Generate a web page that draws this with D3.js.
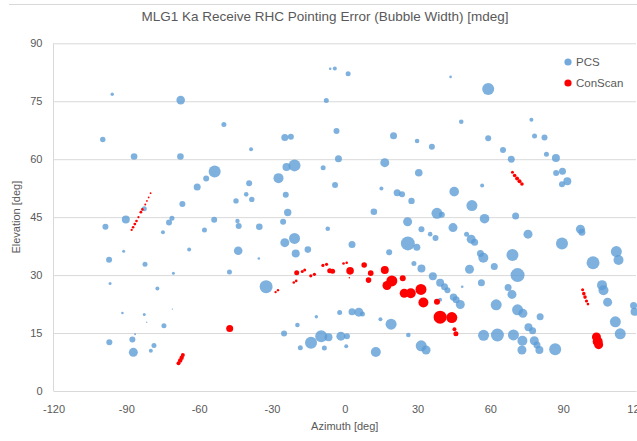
<!DOCTYPE html>
<html><head><meta charset="utf-8">
<script src="https://cdn.jsdelivr.net/npm/d3@7"></script>
<style>body{margin:0;background:#fff}svg{display:block;font-family:"Liberation Sans",Arial,sans-serif}</style>
</head><body><svg id="c" width="637" height="441"></svg>
<script>
// PCS series: azimuth [deg], elevation [deg], bubble width [mdeg]
const pcsAz=[-95.8,-67.6,-99.7,-86.8,-67.7,-53.6,-57.1,-60.8,-66.9,-82.6,-90.2,-71.2,-98.6,-72.4,-74.9,-57.8,-91.1,-64.1,-97.1,-82.3,-70.6,-96.7,-77.2,-91.6,-82.6,-71.0,-81.6,-74.5,-86.4,-97.0,-87.5,-87.1,-78.6,-79.9,
-6.0,-4.1,1.4,-7.6,-49.8,-3.4,-24.7,-22.2,-38.6,-20.7,-24.0,-27.3,-8.9,-2.6,-4.0,-39.4,-40.6,-38.3,-44.8,-24.3,-23.5,-53.8,-44.2,-25.4,-43.7,-35.2,-20.7,-24.7,-20.2,-15.2,-7.0,-43.9,-35.4,-47.5,-32.4,-25.0,-19.5,-11.7,-2.1,-9.7,-13.9,-6.7,-8.4,-18.3,-1.6,0.9,0.6,
43.6,59.1,48.0,20.1,29.8,35.9,59.1,16.5,30.5,15.1,21.6,23.6,27.5,45.1,56.6,52.4,12.0,38.0,40.0,57.6,25.9,31.6,44.6,35.2,37.4,50.2,52.1,53.5,26.0,29.7,3.0,18.3,55.9,57.1,28.5,31.6,51.4,36.3,39.3,41.1,42.3,48.4,56.3,44.8,45.9,47.6,39.3,3.0,5.8,7.3,14.7,19.1,26.2,31.5,33.5,12.8,57.2,
76.9,78.2,82.3,65.2,83.1,68.6,87.0,87.1,89.7,89.5,91.7,70.4,75.5,89.5,97.1,97.7,69.1,61.6,71.2,67.3,68.9,62.4,71.2,73.4,80.5,102.3,111.9,112.8,106.0,106.6,108.3,119.0,119.4,111.5,113.5,62.9,69.5,75.7,77.4,73.2,78.1,79.2,73.0,80.2,86.7];
const pcsEl=[76.8,75.3,65.1,60.7,60.7,56.8,55.0,52.8,48.4,47.2,44.4,44.7,42.5,43.6,41.1,41.7,36.2,36.6,34.0,32.8,30.5,27.8,26.5,20.2,19.8,21.2,17.8,16.9,14.7,12.6,13.3,10.0,11.8,10.4,
83.4,83.5,82.1,75.2,69.0,67.3,65.6,65.8,62.6,58.4,58.0,55.1,57.8,60.1,53.3,53.8,50.9,49.6,49.2,50.8,46.2,44.3,44.0,43.8,42.7,42.5,39.5,38.4,35.6,36.6,42.0,36.3,34.3,30.8,27.0,14.9,17.1,19.2,20.3,14.2,12.5,13.9,11.1,11.2,14.2,14.2,11.6,
81.3,78.2,69.7,66.1,64.7,63.2,65.4,59.1,56.5,52.4,51.3,50.9,49.2,51.6,53.2,48.0,46.4,46.0,45.6,44.6,43.8,41.9,42.3,40.6,39.6,40.6,39.3,38.5,38.2,37.2,37.9,35.9,35.6,34.5,33.0,31.7,31.5,29.7,28.0,27.0,26.1,27.0,28.0,24.3,23.6,22.4,23.6,20.5,20.4,19.9,18.6,17.3,14.5,11.7,10.6,10.1,14.4,
70.2,66.0,65.6,62.4,61.3,60.0,60.3,56.4,56.9,53.5,54.3,45.3,40.6,38.2,41.9,41.1,35.2,32.2,30.0,26.8,25.0,22.3,21.0,20.1,19.2,33.2,36.1,33.9,27.4,26.1,23.0,22.1,20.5,17.9,14.8,14.5,14.5,16.5,15.6,13.0,13.0,11.9,10.6,10.6,10.8];
const pcsWidth=[17,43,27,33,33,60,30,35,30,25,40,25,30,30,20,25,15,20,30,25,15,15,20,13,15,7,7,25,10,30,30,45,25,20,
13,20,25,25,25,30,35,30,20,60,40,50,25,35,30,30,23,27,27,30,37,30,22,30,30,33,55,45,40,33,23,43,13,25,65,30,23,17,25,60,60,40,25,25,45,30,20,
13,60,23,35,23,30,30,45,38,20,35,30,32,48,20,55,33,55,30,48,45,30,45,23,30,25,45,35,70,35,35,30,35,50,25,40,45,40,40,35,30,13,35,37,35,45,20,35,45,25,20,55,23,55,45,50,55,
20,25,30,30,25,35,40,30,35,30,40,35,45,60,45,35,60,35,70,35,45,55,55,45,35,65,55,50,50,50,45,35,40,55,55,65,55,40,35,50,45,35,45,40,60];

// ConScan series
const conAz=[-80.0,-80.8,-81.5,-82.2,-83.4,-84.0,-85.0,-85.8,-86.5,-87.2,-87.8,
-66.7,-67.2,-67.8,-68.5,-47.4,
-28.5,-27.5,-21.0,-20.0,-19.8,-17.5,-16.5,-14.0,-12.5,-9.0,-7.5,-6.2,-5.0,-0.5,0.8,2.2,1.9,
8.0,10.7,9.8,16.5,23.9,19.4,17.4,24.5,27.2,31.4,32.4,38.0,39.3,44.1,45.8,45.2,
69.1,70.0,71.0,72.0,73.0,98.0,98.5,99.0,99.6,100.2,103.7,104.2,104.6];
const conEl=[51.2,50.1,49.2,48.3,47.0,46.3,45.0,44.0,43.2,42.4,41.7,
9.3,8.6,7.9,7.2,16.2,
25.6,26.1,28.1,28.5,30.6,30.9,31.3,29.8,30.2,32.5,32.8,31.1,31.0,33.0,33.2,31.1,29.3,
32.6,30.5,28.7,31.3,29.2,28.5,27.3,25.3,25.3,26.3,22.9,23.1,19.1,19.0,14.8,16.0,
56.6,55.8,55.0,54.3,53.6,26.2,25.2,24.3,23.3,22.5,14.0,12.8,12.0];
const conWidth=[9,9,9,10,13,14,11,13,14,13,11,
20,22,22,20,35,
12,12,13,13,25,15,15,16,16,16,16,25,25,13,13,38,7,
28,28,28,40,30,55,45,45,50,55,50,30,65,55,25,20,
15,18,20,20,18,15,18,18,16,13,45,50,45];

const xTicks=[-120,-90,-60,-30,0,30,60,90,120];
const yTicks=[0,15,30,45,60,75,90];
const seriesNames=["PCS","ConScan"];
const seriesColors=["#5B9BD5","#FF0000"];

const svg=d3.select("#c");
const x=d3.scaleLinear().domain([-120,120]).range([53.5,636]);
const y=d3.scaleLinear().domain([0,90]).range([391,43.3]);
const r=d3.scaleLinear().domain([0,70]).range([0,7]);
const grey="#595959", grid="#D9D9D9";
const fmt=v=>String(v);

// chart border top
svg.append("line").attr("x1",9).attr("x2",637).attr("y1",4.5).attr("y2",4.5).attr("stroke",grid);

// title
svg.append("text").attr("x",325).attr("y",17).attr("text-anchor","middle").attr("dominant-baseline","middle")
  .attr("font-size",13.5).attr("fill",grey).text("MLG1 Ka Receive RHC Pointing Error (Bubble Width) [mdeg]");

// y axis with gridlines
const gy=svg.append("g").attr("transform",`translate(${x(-120)},0)`)
  .call(d3.axisLeft(y).tickValues(yTicks).tickFormat(fmt).tickSize(-(x(120)-x(-120))).tickPadding(11));
gy.select(".domain").remove();
gy.selectAll("line").attr("stroke",grid);
gy.selectAll("text").attr("fill",grey).attr("font-size",11).attr("font-family","Liberation Sans, Arial, sans-serif");

// left axis line
svg.append("line").attr("x1",x(-120)).attr("x2",x(-120)).attr("y1",y(90)).attr("y2",y(0)).attr("stroke",grid);

// x axis
const gx=svg.append("g").attr("transform",`translate(0,${y(0)})`)
  .call(d3.axisBottom(x).tickValues(xTicks).tickFormat(fmt).tickSize(0).tickPadding(14));
gx.select(".domain").attr("stroke",grid);
gx.selectAll("text").attr("fill",grey).attr("font-size",11).attr("font-family","Liberation Sans, Arial, sans-serif");

// axis titles
svg.append("text").attr("x",(x(-120)+x(120))/2).attr("y",430).attr("text-anchor","middle")
  .attr("font-size",11).attr("fill",grey).text("Azimuth [deg]");
svg.append("text").attr("transform",`translate(20,${(y(0)+y(90))/2}) rotate(-90)`).attr("text-anchor","middle")
  .attr("font-size",11).attr("fill",grey).text("Elevation [deg]");

// bubbles
const pcs=pcsAz.map((a,i)=>({az:a,el:pcsEl[i],w:pcsWidth[i]}));
const con=conAz.map((a,i)=>({az:a,el:conEl[i],w:conWidth[i]}));
svg.append("g").selectAll("circle").data(pcs).join("circle")
  .attr("cx",d=>x(d.az)).attr("cy",d=>y(d.el)).attr("r",d=>r(d.w))
  .attr("fill",seriesColors[0]).attr("fill-opacity",0.78);
svg.append("g").selectAll("circle").data(con).join("circle")
  .attr("cx",d=>x(d.az)).attr("cy",d=>y(d.el)).attr("r",d=>r(d.w))
  .attr("fill",seriesColors[1]);

// legend
const lg=svg.append("g").selectAll("g").data(seriesNames).join("g")
  .attr("transform",(d,i)=>`translate(568,${62+i*21})`);
lg.append("circle").attr("r",3.6).attr("fill",(d,i)=>seriesColors[i]).attr("fill-opacity",(d,i)=>i?1:0.85);
lg.append("text").attr("x",8).attr("dy","0.35em").attr("font-size",11.5).attr("fill",grey).text(d=>d);
</script></body></html>
